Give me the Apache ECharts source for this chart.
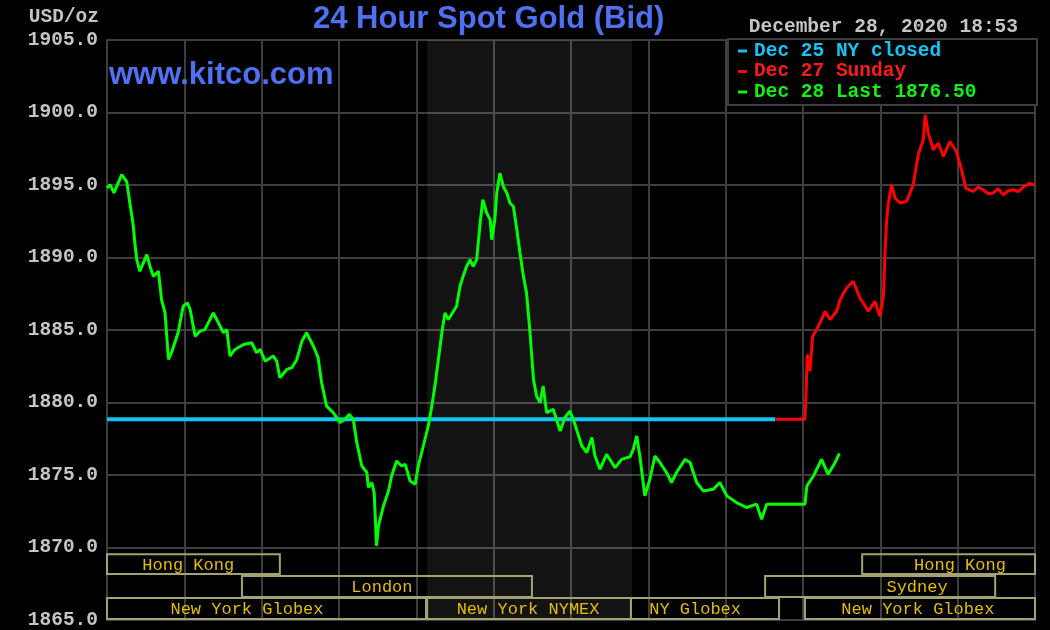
<!DOCTYPE html>
<html>
<head>
<meta charset="utf-8">
<title>24 Hour Spot Gold (Bid)</title>
<script src="https://cdn.jsdelivr.net/npm/echarts@6/dist/echarts.min.js"></script>
<style>
  html, body { margin: 0; padding: 0; background: #000; }
  #main { width: 1050px; height: 630px; }
</style>
</head>
<body>
<div id="main"></div>
<script>
// hours since midnight (NY time), price USD/oz
const closedDec25 = [[0, 1878.85], [17.28, 1878.85]];

const sundayDec27 = [
  [17.28, 1878.85], [18.05, 1878.85], [18.08, 1880.68], [18.11, 1883.31], [18.18, 1882.16],
  [18.25, 1884.57], [18.35, 1885.03], [18.48, 1885.72], [18.57, 1886.29], [18.70, 1885.72],
  [18.87, 1886.29], [18.96, 1887.10], [19.13, 1887.91], [19.30, 1888.36], [19.47, 1887.22],
  [19.69, 1886.29], [19.86, 1886.98], [19.99, 1885.95], [20.08, 1887.33], [20.12, 1890.31],
  [20.16, 1892.38], [20.20, 1893.64], [20.29, 1895.02], [20.38, 1894.10], [20.51, 1893.76],
  [20.68, 1893.87], [20.85, 1895.02], [20.98, 1897.08], [21.11, 1898.12], [21.16, 1899.84],
  [21.24, 1898.58], [21.37, 1897.43], [21.50, 1897.89], [21.63, 1896.97], [21.80, 1898.00],
  [21.97, 1897.31], [22.10, 1896.05], [22.21, 1894.79], [22.40, 1894.56], [22.53, 1894.85],
  [22.66, 1894.67], [22.79, 1894.40], [22.92, 1894.45], [23.05, 1894.75], [23.18, 1894.33],
  [23.31, 1894.60], [23.44, 1894.67], [23.57, 1894.55], [23.70, 1894.86], [23.87, 1895.13],
  [24.00, 1894.95]
];

const lastDec28 = [
  [0.00, 1894.79], [0.08, 1895.02], [0.18, 1894.45], [0.38, 1895.71], [0.51, 1895.24],
  [0.59, 1893.78], [0.67, 1892.40], [0.72, 1891.02], [0.77, 1889.85], [0.85, 1889.05],
  [1.03, 1890.20], [1.11, 1889.39], [1.20, 1888.70], [1.33, 1889.05], [1.41, 1887.10],
  [1.50, 1886.20], [1.59, 1882.97], [1.67, 1883.45], [1.84, 1884.83], [1.97, 1886.64],
  [2.08, 1886.87], [2.15, 1886.41], [2.28, 1884.57], [2.41, 1884.92], [2.53, 1885.03],
  [2.75, 1886.18], [2.88, 1885.50], [3.01, 1884.81], [3.10, 1885.03], [3.18, 1883.20],
  [3.31, 1883.66], [3.53, 1884.00], [3.74, 1884.12], [3.87, 1883.43], [3.96, 1883.66],
  [4.09, 1882.85], [4.30, 1883.20], [4.39, 1882.85], [4.47, 1881.71], [4.65, 1882.28],
  [4.78, 1882.40], [4.91, 1882.97], [5.04, 1884.23], [5.16, 1884.81], [5.34, 1883.88],
  [5.46, 1883.09], [5.55, 1881.36], [5.68, 1879.75], [5.85, 1879.30], [6.03, 1878.61],
  [6.15, 1878.84], [6.27, 1879.18], [6.37, 1878.84], [6.46, 1877.23], [6.59, 1875.62],
  [6.72, 1875.17], [6.76, 1874.14], [6.85, 1874.48], [6.91, 1873.79], [6.97, 1870.12],
  [7.02, 1871.49], [7.15, 1872.87], [7.28, 1873.90], [7.36, 1874.93], [7.49, 1875.97],
  [7.62, 1875.62], [7.71, 1875.74], [7.84, 1874.59], [7.97, 1874.36], [8.05, 1875.62],
  [8.18, 1877.00], [8.31, 1878.38], [8.40, 1879.75], [8.48, 1881.13], [8.57, 1882.97],
  [8.66, 1884.81], [8.74, 1886.18], [8.83, 1885.72], [8.96, 1886.29], [9.04, 1886.64],
  [9.13, 1888.02], [9.21, 1888.70], [9.30, 1889.39], [9.39, 1889.85], [9.47, 1889.39],
  [9.56, 1889.85], [9.65, 1892.38], [9.72, 1893.98], [9.82, 1893.07], [9.91, 1892.61],
  [9.95, 1891.23], [10.03, 1892.61], [10.08, 1894.45], [10.16, 1895.82], [10.25, 1894.90],
  [10.34, 1894.45], [10.42, 1893.76], [10.51, 1893.52], [10.60, 1891.92], [10.68, 1890.31],
  [10.77, 1888.70], [10.85, 1887.56], [10.94, 1884.81], [11.03, 1881.59], [11.11, 1880.44],
  [11.20, 1879.99], [11.28, 1881.13], [11.37, 1879.30], [11.54, 1879.53], [11.72, 1878.03],
  [11.84, 1878.95], [11.97, 1879.41], [12.06, 1878.84], [12.28, 1877.00], [12.41, 1876.55],
  [12.54, 1877.58], [12.62, 1876.31], [12.75, 1875.40], [12.92, 1876.43], [13.14, 1875.51],
  [13.31, 1876.08], [13.53, 1876.27], [13.61, 1876.77], [13.70, 1877.69], [13.78, 1876.31],
  [13.91, 1873.56], [14.04, 1874.71], [14.17, 1876.31], [14.30, 1875.86], [14.47, 1875.17],
  [14.60, 1874.48], [14.73, 1875.17], [14.95, 1876.08], [15.08, 1875.86], [15.25, 1874.48],
  [15.42, 1873.90], [15.68, 1874.02], [15.85, 1874.48], [16.03, 1873.56], [16.28, 1873.10],
  [16.54, 1872.76], [16.80, 1872.99], [16.93, 1871.95], [17.06, 1872.99], [18.05, 1872.99],
  [18.10, 1874.25], [18.27, 1874.93], [18.48, 1876.08], [18.65, 1875.05], [18.83, 1875.86],
  [18.94, 1876.50]
];

// trading sessions at the foot of the chart
const sessionNames = ['Hong Kong', 'Hong Kong', 'London', 'Sydney',
  'New York Globex', 'New York NYMEX', 'NY Globex', 'New York Globex'];
const sessionRow = [0, 0, 1, 1, 2, 2, 2, 2];
const sessionStart = [0, 19.53, 3.49, 17.02, 0, 8.28, 13.55, 18.05];
const sessionEnd = [4.47, 24, 10.99, 22.97, 8.25, 13.55, 17.38, 24];
const sessionLabelAt = [2.10, 22.06, 7.11, 20.95, 3.62, 10.89, 15.21, 20.97];
const rowTop = [1869.54, 1868.03, 1866.51];
const rowBottom = [1868.17, 1866.58, 1865.07];

const nymexHours = [8.28, 13.58];
const yTicks = { min: 1865, max: 1905, step: 5 };

const MONO = '"Liberation Mono", "DejaVu Sans Mono", monospace';
const SANS = '"Liberation Sans", Arial, sans-serif';

const chart = echarts.init(document.getElementById('main'));

const sessionData = sessionNames.map((n, i) =>
  [sessionStart[i], sessionEnd[i], sessionRow[i], sessionLabelAt[i], n]);

chart.setOption({
  backgroundColor: '#000',
  animation: false,
  title: [
    {
      text: '24 Hour Spot Gold (Bid)',
      left: 313, top: 4, padding: 0,
      textStyle: { color: '#5070f2', fontFamily: SANS, fontSize: 31, fontWeight: 'bold' }
    },
    {
      text: 'www.kitco.com',
      left: 109, top: 60, padding: 0,
      textStyle: { color: '#5070f2', fontFamily: SANS, fontSize: 31, fontWeight: 'bold' }
    },
    {
      text: 'USD/oz',
      right: 951, top: 7, padding: 0,
      textStyle: { color: '#c4c4c4', fontFamily: MONO, fontSize: 19.5, fontWeight: 'bold' }
    },
    {
      text: 'December 28, 2020 18:53',
      right: 32, top: 17, padding: 0,
      textStyle: { color: '#c4c4c4', fontFamily: MONO, fontSize: 19.5, fontWeight: 'bold' }
    }
  ],
  legend: {
    orient: 'vertical',
    left: 738, top: 41,
    padding: 0,
    itemGap: 0.5,
    itemWidth: 9, itemHeight: 3,
    icon: 'rect',
    selectedMode: false,
    z: 20,
    textStyle: { fontFamily: MONO, fontSize: 19.5, fontWeight: 'bold', padding: [0, 0, 0, 2] },
    data: [
      { name: 'Dec 25 NY closed', textStyle: { color: '#14c4f4' } },
      { name: 'Dec 27 Sunday', textStyle: { color: '#ff1a1a' } },
      { name: 'Dec 28 Last 1876.50', textStyle: { color: '#12f012' } }
    ]
  },
  graphic: [
    {
      type: 'rect', z: 10,
      shape: { x: 728, y: 39, width: 309, height: 66 },
      style: { fill: '#000', stroke: '#3e3e3e', lineWidth: 2 }
    }
  ],
  grid: {
    left: 107, right: 15, top: 40, bottom: 9,
    show: true, borderColor: '#3e3e3e', borderWidth: 2
  },
  xAxis: {
    type: 'value', min: 0, max: 24, interval: 2,
    axisLine: { show: false }, axisTick: { show: false }, axisLabel: { show: false },
    splitLine: { show: true, lineStyle: { color: '#3e3e3e', width: 2 } }
  },
  yAxis: {
    type: 'value', min: yTicks.min, max: yTicks.max, interval: yTicks.step,
    axisLine: { show: false }, axisTick: { show: false },
    axisLabel: {
      color: '#c4c4c4', fontFamily: MONO, fontSize: 19.5, fontWeight: 'bold', margin: 9,
      formatter: v => v.toFixed(1)
    },
    splitLine: { show: true, lineStyle: { color: '#3e3e3e', width: 2 } }
  },
  series: [
    {
      name: 'Dec 25 NY closed',
      type: 'line',
      data: closedDec25,
      showSymbol: false,
      color: '#10c4ee',
      lineStyle: { width: 4 },
      markArea: {
        silent: true,
        itemStyle: { color: 'rgba(255,255,255,0.075)' },
        data: [[{ xAxis: nymexHours[0] }, { xAxis: nymexHours[1] }]]
      }
    },
    {
      name: 'Dec 27 Sunday',
      type: 'line',
      data: sundayDec27,
      showSymbol: false,
      color: '#ff0000',
      lineStyle: { width: 3 }
    },
    {
      name: 'Dec 28 Last 1876.50',
      type: 'line',
      data: lastDec28,
      showSymbol: false,
      color: '#00ff00',
      lineStyle: { width: 3 }
    },
    {
      name: 'sessions',
      type: 'custom',
      silent: true,
      data: sessionData,
      renderItem: (params, api) => {
        const row = api.value(2);
        const p1 = api.coord([api.value(0), rowTop[row]]);
        const p2 = api.coord([api.value(1), rowBottom[row]]);
        const lx = api.coord([api.value(3), rowTop[row]])[0];
        return {
          type: 'group',
          children: [
            {
              type: 'rect',
              shape: { x: p1[0], y: p1[1], width: p2[0] - p1[0], height: p2[1] - p1[1] },
              style: { fill: 'transparent', stroke: '#a3a274', lineWidth: 2 }
            },
            {
              type: 'text',
              x: lx, y: (p1[1] + p2[1]) / 2 + 1,
              style: {
                text: sessionNames[params.dataIndex],
                fill: '#e6be00',
                font: '17px ' + MONO,
                align: 'center', verticalAlign: 'middle'
              }
            }
          ]
        };
      }
    }
  ]
});
</script>
</body>
</html>
